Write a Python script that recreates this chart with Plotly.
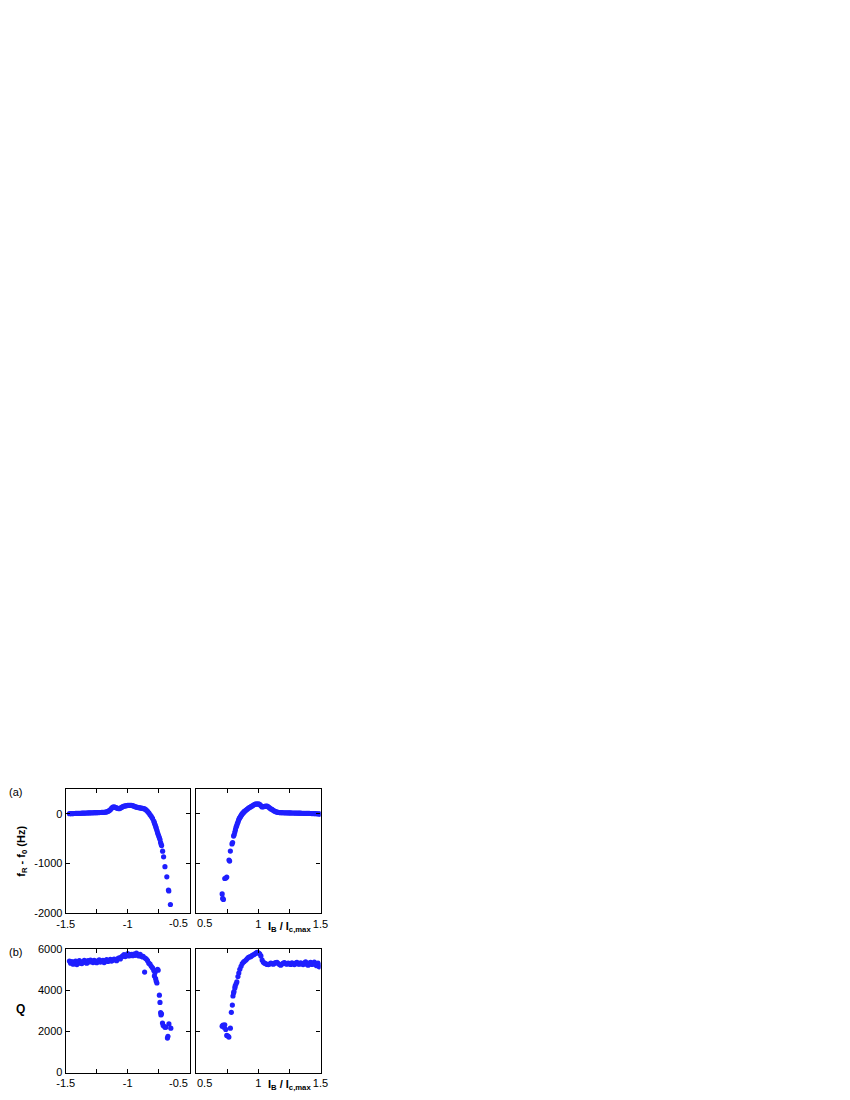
import plotly.graph_objects as go

# ---------------- data ----------------
# (a) left: f_R - f_0 (Hz) vs I_B/I_c,max (negative branch)
fa_left_x = [-1.47, -1.46, -1.45, -1.44, -1.43, -1.42, -1.41, -1.40, -1.39, -1.38,
             -1.37, -1.36, -1.35, -1.34, -1.33, -1.32, -1.31, -1.30, -1.29, -1.28,
             -1.27, -1.26, -1.25, -1.24, -1.23, -1.22, -1.21, -1.20, -1.19, -1.18,
             -1.17, -1.16, -1.15, -1.14, -1.13, -1.12, -1.11, -1.10, -1.09, -1.08,
             -1.07, -1.06, -1.05, -1.04, -1.03, -1.02, -1.01, -1.00, -0.99, -0.98,
             -0.97, -0.96, -0.95, -0.94, -0.93, -0.92, -0.91, -0.90, -0.89, -0.88,
             -0.87, -0.86, -0.85, -0.84, -0.83, -0.82, -0.81, -0.80, -0.79, -0.785,
             -0.78, -0.775, -0.77, -0.765, -0.76, -0.755, -0.75, -0.745, -0.74, -0.735,
             -0.73, -0.727, -0.719, -0.711, -0.700, -0.685, -0.672, -0.669, -0.656]
fa_left_y = [0, 2, 0, 3, 4, 5, 5, 7, 8, 8,
             10, 10, 12, 12, 14, 15, 15, 17, 18, 18,
             20, 20, 21, 22, 23, 24, 25, 27, 28, 30,
             35, 45, 60, 80, 110, 130, 135, 125, 115, 105,
             100, 110, 125, 140, 150, 155, 160, 165, 165, 168,
             165, 160, 150, 140, 130, 125, 120, 115, 110, 105,
             100, 90, 70, 45, 15, -20, -55, -95, -150, -185,
             -220, -255, -290, -335, -380, -415, -450, -485, -520, -580,
             -620, -640, -752, -865, -1063, -1267, -1531, -1550, -1822]

# (a) right: positive branch
fa_right_x = [0.708, 0.712, 0.718, 0.729, 0.738, 0.745, 0.763, 0.768, 0.774, 0.787,
              0.792, 0.800, 0.805, 0.810, 0.815, 0.820, 0.825, 0.830, 0.835, 0.840,
              0.845, 0.850, 0.855, 0.860, 0.865, 0.870, 0.875, 0.880, 0.885, 0.890,
              0.900, 0.910, 0.920, 0.930, 0.940, 0.950, 0.960, 0.970, 0.980, 0.990,
              1.000, 1.010, 1.020, 1.030, 1.040, 1.050, 1.060, 1.070, 1.080, 1.090,
              1.100, 1.110, 1.120, 1.130, 1.140, 1.150, 1.160, 1.170, 1.180, 1.190,
              1.200, 1.210, 1.220, 1.230, 1.240, 1.250, 1.260, 1.270, 1.280, 1.290,
              1.300, 1.310, 1.320, 1.330, 1.340, 1.350, 1.360, 1.370, 1.380, 1.390,
              1.400, 1.410, 1.420, 1.430, 1.440, 1.450, 1.460, 1.470, 1.480, 1.490,
              1.500]
fa_right_y = [-1610, -1700, -1720, -1300, -1290, -1270, -930, -950, -750, -607,
              -580, -450, -420, -370, -320, -270, -240, -200, -170, -130,
              -100, -80, -60, -40, -20, 0, 10, 25, 40, 50,
              70, 90, 110, 125, 140, 155, 170, 185, 195, 190,
              195, 185, 160, 135, 140, 145, 150, 150, 135, 115,
              95, 85, 65, 50, 40, 30, 25, 22, 20, 20,
              19, 18, 18, 17, 16, 16, 15, 14, 14, 13,
              12, 12, 11, 10, 10, 9, 8, 8, 7, 6,
              5, 5, 4, 3, 2, 2, 0, -2, -4, -6,
              -10]

# (b) left: Q vs I_B/I_c,max (negative branch)
qb_left_x = [-1.47, -1.46, -1.45, -1.44, -1.43, -1.42, -1.41, -1.40, -1.39, -1.38,
             -1.37, -1.36, -1.35, -1.34, -1.33, -1.32, -1.31, -1.30, -1.29, -1.28,
             -1.27, -1.26, -1.25, -1.24, -1.23, -1.22, -1.21, -1.20, -1.19, -1.18,
             -1.17, -1.16, -1.15, -1.14, -1.13, -1.12, -1.11, -1.10, -1.09, -1.08,
             -1.07, -1.06, -1.05, -1.04, -1.03, -1.02, -1.01, -1.00, -0.99, -0.98,
             -0.97, -0.96, -0.95, -0.94, -0.93, -0.92, -0.91, -0.90, -0.89, -0.88,
             -0.876, -0.864, -0.86, -0.85, -0.84, -0.83, -0.82, -0.81, -0.80, -0.79,
             -0.785, -0.78, -0.775, -0.77, -0.765, -0.76, -0.755, -0.745, -0.74, -0.735,
             -0.732, -0.728, -0.72, -0.714, -0.70, -0.693, -0.68, -0.676, -0.668, -0.653]
qb_left_y = [5400, 5300, 5380, 5250, 5350, 5400, 5230, 5320, 5420, 5300,
             5280, 5380, 5440, 5330, 5300, 5420, 5360, 5450, 5400, 5330,
             5430, 5370, 5320, 5410, 5460, 5350, 5400, 5440, 5330, 5420,
             5470, 5380, 5420, 5480, 5400, 5450, 5500, 5470, 5420, 5520,
             5560, 5500, 5600, 5650, 5710, 5620, 5680, 5760, 5650, 5700,
             5720, 5660, 5740, 5680, 5790, 5700, 5650, 5720, 5640, 5600,
             5630, 4870, 5550, 5500, 5420, 5300, 5250, 5150, 5070, 4950,
             4680, 4850, 4550, 4420, 4340, 5000, 4960, 3750, 3400, 2900,
             2790, 2850, 2400, 2280, 2200, 2200, 1675, 1755, 2360, 2150]

# (b) right: positive branch
qb_right_x = [0.708, 0.715, 0.722, 0.729, 0.737, 0.745, 0.755, 0.762, 0.774, 0.782,
              0.790, 0.795, 0.800, 0.803, 0.810, 0.813, 0.820, 0.826, 0.835, 0.842,
              0.850, 0.860, 0.870, 0.880, 0.887, 0.900, 0.910, 0.920, 0.930, 0.940,
              0.950, 0.960, 0.970, 0.980, 0.990, 1.000, 1.010, 1.020, 1.030, 1.040,
              1.050, 1.060, 1.070, 1.080, 1.090, 1.100, 1.110, 1.120, 1.130, 1.140,
              1.150, 1.160, 1.170, 1.180, 1.190, 1.200, 1.210, 1.220, 1.230, 1.240,
              1.250, 1.260, 1.270, 1.280, 1.290, 1.300, 1.310, 1.320, 1.330, 1.340,
              1.350, 1.360, 1.370, 1.380, 1.390, 1.400, 1.410, 1.420, 1.430, 1.440,
              1.450, 1.460, 1.470, 1.480, 1.490, 1.500]
qb_right_y = [2250, 2300, 2200, 2314, 2090, 1800, 1770, 1720, 2150, 2920,
              3270, 3710, 3850, 3925, 4100, 4196, 4300, 4390, 4650, 4820,
              5000, 5150, 5280, 5350, 5390, 5450, 5520, 5580, 5600, 5620,
              5680, 5700, 5740, 5790, 5820, 5800, 5750, 5650, 5450, 5340,
              5300, 5270, 5240, 5230, 5260, 5300, 5280, 5250, 5300, 5330,
              5340, 5280, 5230, 5200, 5260, 5300, 5330, 5270, 5250, 5300,
              5280, 5240, 5320, 5270, 5230, 5300, 5340, 5260, 5250, 5320,
              5280, 5230, 5310, 5360, 5250, 5200, 5300, 5340, 5240, 5280,
              5350, 5220, 5180, 5300, 5120, 5200]

# tick labels
x_left_ticks = [-1.5, -1.25, -1.0, -0.75, -0.5]
x_left_text = ["-1.5", "", "-1", "", ""]
x_right_ticks = [0.5, 0.75, 1.0, 1.25, 1.5]
x_right_text = ["", "", "1", "", "1.5"]
f_ticks = [-2000, -1000, 0]
q_ticks = [0, 2000, 4000, 6000]

# ---------------- figure ----------------
W, H = 850, 1100
DX, DY = -13, -4          # compensation for page offset
MARK = dict(color="#1f1fff", size=5.2, line=dict(width=0))
FONT = "Liberation Sans, Arial, sans-serif"

def px_x(a, b):
    return [(a + DX) / W, (b + DX) / W]

def px_y(top, bottom):
    return [1 - (bottom + DY) / H, 1 - (top + DY) / H]

fig = go.Figure()
fig.add_trace(go.Scatter(x=fa_left_x, y=fa_left_y, mode="markers", marker=MARK,
                         xaxis="x", yaxis="y", showlegend=False))
fig.add_trace(go.Scatter(x=fa_right_x, y=fa_right_y, mode="markers", marker=MARK,
                         xaxis="x2", yaxis="y2", showlegend=False))
fig.add_trace(go.Scatter(x=qb_left_x, y=qb_left_y, mode="markers", marker=MARK,
                         xaxis="x3", yaxis="y3", showlegend=False))
fig.add_trace(go.Scatter(x=qb_right_x, y=qb_right_y, mode="markers", marker=MARK,
                         xaxis="x4", yaxis="y4", showlegend=False))

common = dict(showline=True, linecolor="black", linewidth=1.2, mirror="ticks",
              ticks="inside", ticklen=4, tickwidth=1, tickcolor="black",
              showgrid=False, zeroline=False,
              tickfont=dict(family=FONT, size=11, color="black"))

xl_dom = px_x(62.7, 189.3)
xr_dom = px_x(196, 322.7)
top_dom = px_y(787.3, 913.3)
bot_dom = px_y(949, 1074.3)

fig.update_layout(
    width=W, height=H,
    margin=dict(l=0, r=0, t=0, b=0),
    paper_bgcolor="white", plot_bgcolor="white",
    xaxis=dict(domain=xl_dom, anchor="y", range=[-1.5, -0.5],
               tickmode="array", tickvals=x_left_ticks, ticktext=x_left_text, **common),
    yaxis=dict(domain=top_dom, anchor="x", range=[-2000, 500],
               tickmode="array", tickvals=f_ticks, ticktext=[str(v) for v in f_ticks], **common),
    xaxis2=dict(domain=xr_dom, anchor="y2", range=[0.5, 1.5],
                tickmode="array", tickvals=x_right_ticks, ticktext=x_right_text, **common),
    yaxis2=dict(domain=top_dom, anchor="x2", range=[-2000, 500],
                tickmode="array", tickvals=f_ticks, showticklabels=False, **common),
    xaxis3=dict(domain=xl_dom, anchor="y3", range=[-1.5, -0.5],
                tickmode="array", tickvals=x_left_ticks, ticktext=x_left_text, **common),
    yaxis3=dict(domain=bot_dom, anchor="x3", range=[0, 6000],
                tickmode="array", tickvals=q_ticks, ticktext=[str(v) for v in q_ticks], **common),
    xaxis4=dict(domain=xr_dom, anchor="y4", range=[0.5, 1.5],
                tickmode="array", tickvals=x_right_ticks, ticktext=x_right_text, **common),
    yaxis4=dict(domain=bot_dom, anchor="x4", range=[0, 6000],
                tickmode="array", tickvals=q_ticks, showticklabels=False, **common),
)

def ann(text, x, y, size=11, angle=0, xanchor="center", yanchor="middle"):
    fig.add_annotation(text=text, x=(x + DX) / W, y=1 - (y + DY) / H, xref="paper", yref="paper",
                       showarrow=False, textangle=angle, xanchor=xanchor, yanchor=yanchor,
                       font=dict(family=FONT, size=size, color="black"))

# end tick labels that would collide, placed beside each other
for yy in (923.5, 1084.5):
    ann(str(x_left_ticks[-1]), 189.5, yy, xanchor="right")
    ann(str(x_right_ticks[0]), 194.5, yy, xanchor="left")

ann("(a)", 3, 791, size=11, xanchor="left")
ann("(b)", 3, 952, size=11, xanchor="left")
ann("<b>f<sub>R</sub> - f<sub>0</sub> (Hz)</b>", 18, 850, size=11, angle=-90)
ann("<b>Q</b>", 17, 1010, size=12)
ann("<b>I<sub>B</sub> / I<sub>c,max</sub></b>", 291, 927, size=11)
ann("<b>I<sub>B</sub> / I<sub>c,max</sub></b>", 291, 1087, size=11)

fig.write_html("out.html")
